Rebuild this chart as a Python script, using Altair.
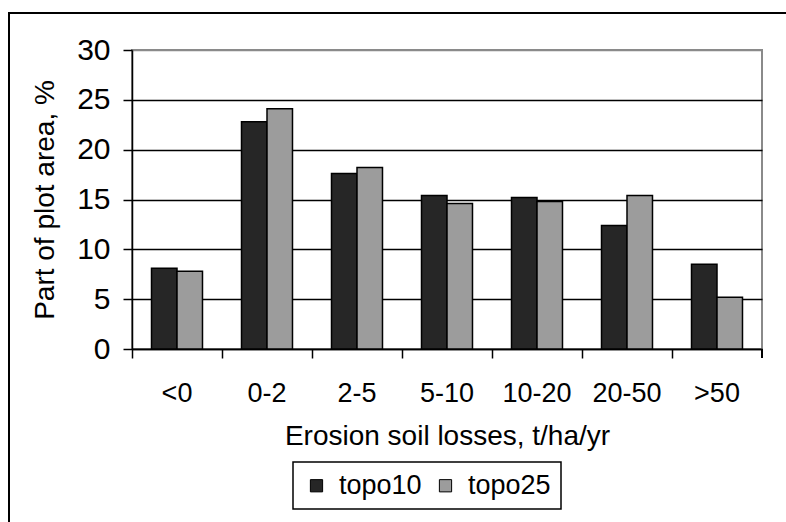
import altair as alt
import pandas as pd

categories = ["<0", "0-2", "2-5", "5-10", "10-20", "20-50", ">50"]
topo10 = [8.1, 22.8, 17.6, 15.4, 15.2, 12.4, 8.5]
topo25 = [7.8, 24.1, 18.2, 14.6, 14.8, 15.4, 5.2]
series = ["topo10", "topo25"]
y_ticks = [0, 5, 10, 15, 20, 25, 30]

rows = []
for c, a, b in zip(categories, topo10, topo25):
    rows.append({"cat": c, "series": "topo10", "value": a})
    rows.append({"cat": c, "series": "topo25", "value": b})
df = pd.DataFrame(rows)

FONT = "Liberation Sans"

bars = alt.Chart(df).mark_bar(stroke="black", strokeWidth=1.5).encode(
    x=alt.X("cat:N", sort=categories,
            scale=alt.Scale(paddingInner=0, paddingOuter=0),
            axis=alt.Axis(title="Erosion soil losses, t/ha/yr", labelAngle=0,
                          bandPosition=0, labelOffset=0,
                          tickSize=9, tickColor="black", tickWidth=1.5,
                          domainColor="black", domainWidth=1.5,
                          labelFontSize=27, labelFont=FONT, labelColor="black",
                          labelPadding=22, labelBaseline="top",
                          titleFontSize=28, titleFont=FONT, titleColor="black",
                          titleFontWeight="normal", titlePadding=16)),
    xOffset=alt.XOffset("series:N", sort=series,
                        scale=alt.Scale(paddingInner=0, paddingOuter=0.765)),
    y=alt.Y("value:Q", scale=alt.Scale(domain=[0, 30], nice=False),
            axis=alt.Axis(title="Part of plot area, %", values=y_ticks,
                          grid=True,
                          gridColor={"condition": {"test": "datum.value === 30", "value": "#8a8a8a"}, "value": "black"},
                          gridWidth=1.5,
                          tickSize=9, tickColor="black", tickWidth=1.5,
                          domainColor="black", domainWidth=1.5,
                          labelFontSize=30, labelFont=FONT, labelColor="black",
                          labelPadding=13,
                          titleFontSize=28, titleFont=FONT, titleColor="black",
                          titleFontWeight="normal", titlePadding=17)),
    color=alt.Color("series:N", sort=series,
                    scale=alt.Scale(domain=series, range=["#262626", "#9c9c9c"]),
                    legend=alt.Legend(title=None, orient="none", legendX=161, legendY=412,
                                      direction="horizontal", symbolType="square",
                                      symbolSize=150, symbolStrokeColor="black",
                                      symbolStrokeWidth=1, labelFontSize=27,
                                      labelFont=FONT, labelColor="black",
                                      labelOffset=9, columnPadding=10,
                                      padding=10, strokeColor="black",
                                      fillColor="white")),
)

end_tick = alt.Chart(df).mark_rule(color="black", strokeWidth=1.5).encode(
    x=alt.value(630), y=alt.value(299), y2=alt.value(308)
)

frame = alt.Chart(df).mark_rect(fill=None, stroke="black", strokeWidth=2, clip=False).encode(
    x=alt.value(-123), x2=alt.value(670), y=alt.value(-37), y2=alt.value(490)
)

chart = alt.layer(frame, bars, end_tick).properties(
    width=630, height=299,
    autosize=alt.AutoSizeParams(type="none"),
    padding={"left": 132, "top": 50, "right": 24, "bottom": 173},
).configure_view(stroke="#8a8a8a", strokeWidth=2).configure_legend(strokeWidth=1.5)

chart.save("out.html", embed_options={"renderer": "svg", "actions": False})
